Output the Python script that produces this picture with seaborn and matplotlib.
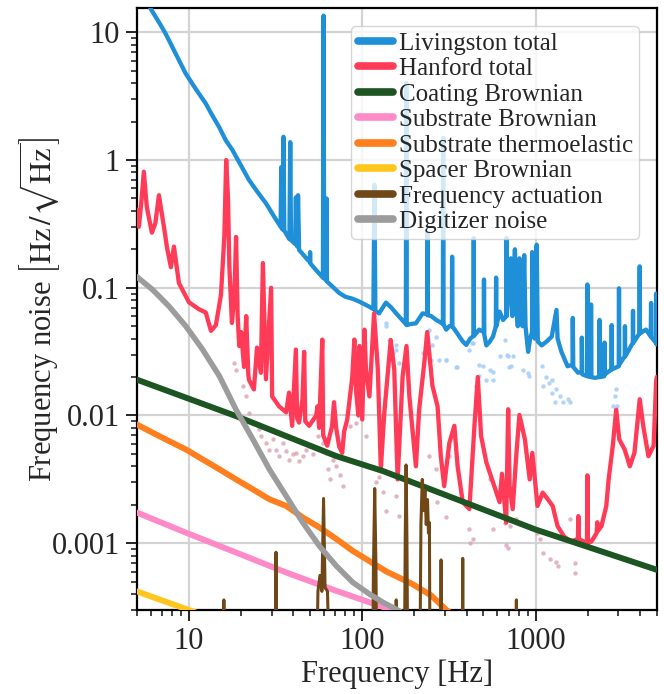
import numpy as np
import pandas as pd
import matplotlib
matplotlib.use("Agg")
import matplotlib.pyplot as plt
from matplotlib.lines import Line2D
from matplotlib.ticker import FuncFormatter, LogLocator, NullFormatter
import seaborn as sns

# ---------------- data ----------------
liv_f = [5.8, 6.01, 6.71, 7.33, 8.38, 9.57, 10.9, 12.5, 13.6, 14.9, 16.3, 17.8, 19.9, 22.2,
         24.8, 27.8, 31.0, 33.8, 34.1, 34.4, 34.8, 35.1, 35.5, 38.0, 38.4, 38.8, 41.0, 41.4,
         41.8, 42.2, 42.6, 43.2, 48.3, 49.8, 50.0, 50.2, 54.0, 59.3, 59.8, 60.3, 61.9, 62.2,
         62.5, 67.4, 73.6, 80, 88, 96, 110, 116, 117.5, 119, 125, 137, 147, 157, 170, 178.5,
         179.5, 180.5, 190, 204, 223, 237, 238, 239, 250, 267, 280, 292, 293, 294, 305, 318,
         329, 330, 331, 345, 363, 380, 398, 420, 439, 440, 441, 473, 502, 504, 506, 520, 545,
         568, 590, 592, 594, 620, 650, 678, 680, 682, 700, 720, 735, 760, 775, 790, 807, 820,
         840, 860, 875, 906, 930, 955, 956, 958, 990, 1015, 1030, 1085, 1160, 1240, 1320,
         1340, 1410, 1530, 1635, 1640, 1650, 1760, 1845, 1850, 1860, 1985, 1990, 2000, 2085,
         2090, 2100, 2200, 2335, 2340, 2350, 2490, 2500, 2510, 2740, 2750, 2760, 3020, 3030,
         3040, 3270, 3280, 3290, 3640, 3650, 3660, 3980, 3990, 4000, 4340, 4620, 4640, 4660,
         4950, 4960, 4975, 5000]
liv_y = [17.5, 15.3, 12.0, 9.77, 6.82, 4.76, 3.63, 2.77, 2.25, 1.82, 1.43, 1.20, 0.914,
         0.698, 0.565, 0.459, 0.361, 0.30, 0.88, 0.29, 0.285, 1.52, 0.28, 0.24, 1.38, 0.237,
         0.22, 0.51, 0.215, 0.21, 0.53, 0.198, 0.166, 0.16, 0.19, 0.155, 0.138, 0.12, 13.5,
         0.118, 0.115, 0.5, 0.112, 0.102, 0.091, 0.085, 0.082, 0.078, 0.071, 0.068, 0.64,
         0.066, 0.063, 0.0765, 0.070, 0.063, 0.056, 0.052, 4.0, 0.051, 0.052, 0.0527, 0.063,
         0.062, 0.27, 0.061, 0.060, 0.056, 0.054, 0.052, 1.49, 0.052, 0.047, 0.050, 0.050,
         0.175, 0.050, 0.046, 0.0415, 0.038, 0.0357, 0.040, 0.042, 0.245, 0.042, 0.047,
         0.045, 0.116, 0.043, 0.0354, 0.038, 0.0415, 0.050, 0.12, 0.050, 0.065, 0.056, 0.060,
         0.245, 0.060, 0.09, 0.17, 0.06, 0.20, 0.07, 0.05, 0.17, 0.06, 0.05, 0.18, 0.05,
         0.0315, 0.040, 0.045, 0.19, 0.045, 0.040, 0.217, 0.038, 0.0354, 0.038, 0.0415,
         0.067, 0.040, 0.0315, 0.0243, 0.025, 0.058, 0.024, 0.0216, 0.022, 0.0407, 0.021,
         0.0203, 0.106, 0.0203, 0.020, 0.074, 0.020, 0.0197, 0.020, 0.056, 0.020, 0.0203,
         0.0372, 0.021, 0.0229, 0.051, 0.023, 0.0243, 0.099, 0.025, 0.0291, 0.050, 0.029,
         0.037, 0.066, 0.037, 0.044, 0.147, 0.044, 0.047, 0.0415, 0.076, 0.041, 0.037, 0.09,
         0.037, 0.036]

han_f = [5.0, 5.14, 5.3, 5.49, 5.71, 6.11, 6.4, 6.71, 7.17, 7.5, 7.87, 8.19, 8.75, 10, 11.4,
         12.5, 13.4, 14.3, 15.3, 16.0, 16.4, 16.8, 17.1, 17.7, 18.3, 18.7, 19.1, 19.5, 20.0,
         20.8, 21.4, 22.0, 22.2, 23.7, 24.7, 26.0, 26.7, 27.8, 29.8, 30.2, 33.1, 36.4, 37.8,
         39.4, 41.4, 42.1, 43.2, 45.2, 46.2, 46.9, 49.4, 54.2, 55.2, 56.4, 58.8, 59.5, 62.8,
         67, 68.7, 70.7, 73.6, 76.6, 78.6, 81.9, 87.6, 90, 92.3, 95, 96.5, 100, 103, 105,
         110, 117, 123, 128, 134, 146, 153, 160, 171, 180, 187, 204, 213, 228, 237, 254, 272,
         284, 297, 318, 340, 355, 380, 415, 444, 464, 485, 520, 568, 620, 640, 677, 695, 708,
         738, 775, 807, 868, 925, 958, 1026, 1100, 1176, 1255, 1340, 1460, 1600, 1755, 1765,
         1780, 1980, 1990, 2000, 2100, 2250, 2270, 2290, 2400, 2560, 2640, 2790, 2920, 3040,
         3270, 3500, 3720, 3990, 4180, 4480, 4800, 4960, 5000]
han_y = [0.41, 0.30, 0.45, 0.81, 0.43, 0.27, 0.32, 0.53, 0.30, 0.20, 0.145, 0.21, 0.109,
         0.077, 0.068, 0.064, 0.046, 0.051, 0.088, 0.25, 1.0, 0.5, 0.15, 0.053, 0.09, 0.25,
         0.06, 0.035, 0.045, 0.024, 0.06, 0.021, 0.019, 0.016, 0.034, 0.0216, 0.156, 0.0192,
         0.10, 0.0141, 0.0118, 0.0106, 0.0151, 0.0083, 0.0328, 0.0095, 0.0088, 0.0134, 0.0315,
         0.0090, 0.0083, 0.0100, 0.0118, 0.0080, 0.0393, 0.0070, 0.0058, 0.0083, 0.0127,
         0.0080, 0.0057, 0.0051, 0.0075, 0.0093, 0.020, 0.0393, 0.0151, 0.010, 0.035, 0.0093,
         0.047, 0.0229, 0.0141, 0.063, 0.0229, 0.0038, 0.0105, 0.039, 0.0229, 0.00316, 0.0203,
         0.035, 0.0141, 0.0040, 0.0112, 0.0258, 0.045, 0.0171, 0.0118, 0.0048, 0.0028, 0.0061,
         0.0083, 0.0040, 0.0021, 0.00185, 0.0083, 0.020, 0.0069, 0.0043, 0.0030, 0.0021,
         0.0035, 0.00145, 0.0112, 0.0028, 0.00185, 0.0050, 0.0101, 0.0065, 0.00316, 0.0051,
         0.00196, 0.00249, 0.00221, 0.00196, 0.00136, 0.00113, 0.00103, 0.00108, 0.00163,
         0.00108, 0.0010, 0.0034, 0.0010, 0.00103, 0.0012, 0.00146, 0.00125, 0.00136, 0.00196,
         0.00316, 0.0058, 0.0111, 0.0065, 0.0054, 0.0040, 0.0051, 0.0134, 0.0083, 0.0048,
         0.0058, 0.0181, 0.020]

liv_dot_f = [137, 143, 150, 157, 164, 223, 235, 244, 250, 254, 267, 278, 305, 347, 350, 415,
             430, 434, 454, 470, 473, 497, 520, 543, 568, 570, 620, 663, 680, 690, 700, 720,
             738, 842, 906, 922, 1085, 1100, 1200, 1240, 1300, 1320, 1380, 1440, 1530, 1577,
             2790, 2890, 2900, 2950, 137, 157, 305, 1150, 1250]
liv_dot_y = [0.0499, 0.0393, 0.031, 0.0328, 0.0258, 0.0310, 0.045, 0.047, 0.027, 0.0357,
             0.0415, 0.0274, 0.0274, 0.024, 0.024, 0.0328, 0.037, 0.0372, 0.0171, 0.025,
             0.0203, 0.0243, 0.019, 0.0229, 0.0191, 0.022, 0.029, 0.0393, 0.030, 0.029, 0.024,
             0.0243, 0.0291, 0.0229, 0.0216, 0.0203, 0.0243, 0.0171, 0.018, 0.0191, 0.0127,
             0.0161, 0.0141, 0.0127, 0.0134, 0.0127, 0.0118, 0.0141, 0.016, 0.0118, 0.0533,
             0.0357, 0.0274, 0.020, 0.015]

han_dot_f = [18.3, 18.7, 20.4, 21.4, 22.3, 23.3, 25.5, 26.0, 27.9, 29.1, 30.5, 31.8, 33.2,
             34.8, 36.4, 38.0, 39.7, 41.6, 43.4, 45.4, 47.5, 49.6, 51.8, 55.3, 59.4, 62.1,
             63.5, 64.8, 67.8, 70.8, 74.1, 77.4, 84.5, 92.2, 105, 120, 132, 125, 137, 157,
             164, 244, 267, 270, 305, 318, 415, 420, 434, 543, 568, 663, 677, 690, 708, 776,
             1026, 1058, 1100, 1205, 1320, 1340, 1577, 1680, 1680]
han_dot_y = [0.0258, 0.0229, 0.0171, 0.0141, 0.0105, 0.0088, 0.0078, 0.0069, 0.0061, 0.0054,
             0.0065, 0.0054, 0.0048, 0.0061, 0.0053, 0.0045, 0.0050, 0.0051, 0.0044, 0.0048,
             0.0054, 0.0058, 0.0050, 0.0069, 0.0061, 0.0051, 0.0038, 0.0032, 0.0045, 0.0040,
             0.0034, 0.0028, 0.0083, 0.0088, 0.0069, 0.0030, 0.0025, 0.0033, 0.0018, 0.00234,
             0.00163, 0.00481, 0.0038, 0.0021, 0.0016, 0.00481, 0.0013, 0.0010, 0.00108,
             0.00316, 0.0013, 0.00145, 0.00097, 0.00092, 0.00136, 0.00154, 0.0012, 0.00108,
             0.000846, 0.00075, 0.00071, 0.00066, 0.00154, 0.00059, 0.0007]

coat_f = [5, 18.7, 70.8, 132, 1000, 5000]
coat_y = [0.0191, 0.00989, 0.00481, 0.00367, 0.00128, 0.00062]

subb_f = [5, 9.61, 18.7, 36.4, 70.8, 138, 200]
subb_y = [0.00174, 0.00121, 0.000846, 0.00059, 0.000424, 0.00031, 0.00025]

subt_f = [5, 6.17, 7.69, 9.61, 12.0, 15.0, 18.7, 23.4, 29.1, 36.4, 45.4, 56.6, 70.8, 88.3,
          138, 194, 250, 306, 340]
subt_y = [0.0085, 0.00733, 0.0063, 0.00542, 0.00453, 0.00379, 0.00316, 0.00264, 0.00221,
          0.00196, 0.00159, 0.00133, 0.00108, 0.00087, 0.0006, 0.00048, 0.00039, 0.0003,
          0.00027]

spac_f = [5, 10, 100]
spac_y = [0.00042, 0.0003, 0.000095]

act_f = [5, 15.7, 15.9, 16.1, 31.5, 31.8, 32.1, 54.5, 55.5, 57, 58.5, 59.8, 61, 63, 64.6,
         65.5, 115, 116, 118, 120, 121, 155, 157, 159, 175, 177, 179, 181, 183, 215, 218, 222,
         226, 230, 234, 238, 241, 244, 246, 283, 285, 287, 378, 380, 382, 772, 775, 778, 5000]
act_y = [0.0001, 0.0001, 0.00036, 0.0001, 0.0001, 0.00085, 0.0001, 0.0001, 0.00042, 0.00056,
         0.00042, 0.00224, 0.00045, 0.00042, 0.0001, 0.0001, 0.0001, 0.00063, 0.00268, 0.00063,
         0.0001, 0.0001, 0.00036, 0.0001, 0.0001, 0.0011, 0.0041, 0.0011, 0.0001, 0.0001,
         0.0014, 0.00316, 0.0018, 0.0026, 0.0014, 0.0022, 0.0012, 0.00145, 0.0001, 0.0001,
         0.00074, 0.0001, 0.0001, 0.00076, 0.0001, 0.0001, 0.00036, 0.0001, 0.0001]

dig_f = [5, 6.17, 7.69, 9.61, 12.0, 15.0, 18.7, 23.4, 29.1, 36.4, 45.4, 56.6, 70.8, 88.3, 110,
         132, 160, 200]
dig_y = [0.122, 0.0965, 0.0714, 0.0499, 0.0328, 0.0203, 0.0111, 0.0065, 0.00379, 0.00234,
         0.00145, 0.00095, 0.000665, 0.000493, 0.0004, 0.000344, 0.0003, 0.00025]

labels = ["Livingston total", "Hanford total", "Coating Brownian", "Substrate Brownian",
          "Substrate thermoelastic", "Spacer Brownian", "Frequency actuation", "Digitizer noise"]
colors = ["#1f8fd8", "#ff3b57", "#1d5522", "#ff8ac8", "#ff7f1e", "#ffc61e", "#704818", "#9c9c9c"]

# ---------------- style ----------------
sns.set_style("ticks")
plt.rcParams["font.family"] = ["Liberation Serif", "DejaVu Serif"]
plt.rcParams["mathtext.fontset"] = "stix"

fig = plt.figure(figsize=(6.64, 6.94), dpi=100)
ax = fig.add_axes([0.206, 0.121, 0.783, 0.867])
ax.set_xscale("log")
ax.set_yscale("log")

# light dots beneath
sns.scatterplot(x=liv_dot_f, y=liv_dot_y, ax=ax, color="#a9d0f7", s=10, linewidth=0,
                alpha=0.9, zorder=2)
sns.scatterplot(x=han_dot_f, y=han_dot_y, ax=ax, color="#dba4b2", s=10, linewidth=0,
                alpha=0.8, zorder=2)

series = [(liv_f, liv_y, 3.1), (han_f, han_y, 3.1), (coat_f, coat_y, 4.3), (subb_f, subb_y, 4.3),
          (subt_f, subt_y, 4.3), (spac_f, spac_y, 4.3), (act_f, act_y, 2.2), (dig_f, dig_y, 4.0)]
for (fx, fy, lw), c in zip(series, colors):
    df = pd.DataFrame({"f": fx, "y": fy})
    sns.lineplot(data=df, x="f", y="y", ax=ax, color=c, lw=lw, estimator=None, sort=False,
                 zorder=3)

ax.set_xlim(5, 5000)
ax.set_ylim(3.0e-4, 15.4)

fmt = FuncFormatter(lambda v, p: f"{v:g}")
ax.xaxis.set_major_formatter(fmt)
ax.yaxis.set_major_formatter(fmt)
ax.xaxis.set_minor_formatter(NullFormatter())
ax.yaxis.set_minor_formatter(NullFormatter())
ax.yaxis.set_major_locator(LogLocator(base=10, numticks=10))
ax.yaxis.set_minor_locator(LogLocator(base=10, subs=np.arange(2, 10), numticks=20))
ax.tick_params(axis="both", which="major", labelsize=22, length=8, width=1.4, direction="out",
               pad=4)
ax.tick_params(axis="both", which="minor", length=4.5, width=1.2, direction="out")
for s in ax.spines.values():
    s.set_linewidth(1.6)
    s.set_color("black")
ax.grid(True, which="major", color="#d3d3d3", lw=1.6, zorder=0)
ax.set_axisbelow(True)

ax.set_xlabel("Frequency [Hz]", fontsize=22, labelpad=3)
ax.set_ylabel(r"Frequency noise $\left[\mathrm{Hz}\,/\sqrt{\mathrm{Hz}}\right]$", fontsize=22,
              labelpad=-8)

handles = [Line2D([0], [0], color=c, lw=5.5) for c in colors]
leg = ax.legend(handles, labels, loc="upper right", fontsize=18, handlelength=1.4,
                handletextpad=0.25, labelspacing=0.12, borderpad=0.25, borderaxespad=0.7,
                framealpha=0.8, fancybox=True)
leg.get_frame().set_linewidth(1.0)
leg.set_zorder(10)

fig.savefig("out.png", dpi=100)
